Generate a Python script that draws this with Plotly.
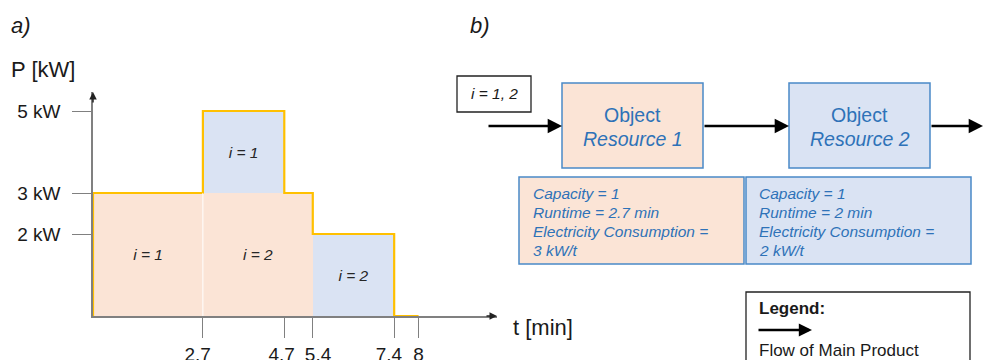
import numpy as np
import plotly.graph_objects as go

# ---------------- data ----------------
# jobs on resource 1 (orange) and resource 2 (blue)
r1_labels = ["i = 1", "i = 2"]
r1_start = [0.0, 2.7]
r1_end = [2.7, 5.4]
r1_power = [3, 3]
r1_base = [0, 0]

r2_labels = ["i = 1", "i = 2"]
r2_start = [2.7, 5.4]
r2_end = [4.7, 7.4]
r2_power = [2, 2]
r2_base = [3, 0]

# total power profile (step)
profile_t = [0, 0, 2.7, 4.7, 5.4, 7.4, 8]
profile_p = [0, 3, 5, 3, 2, 0, 0]

x_ticks = [2.7, 4.7, 5.4, 7.4, 8]
NB = "\u00a0"
x_ticktext = ["2.7" + NB * 2, "4.7" + NB, NB * 2 + "5.4", "7.4" + NB * 2, "8"]
y_ticks = [2, 3, 5]
y_ticktext = ["2 kW", "3 kW", "5 kW"]

W, H = 984, 360
FONT = "Liberation Sans, Arial, sans-serif"
PEACH = "#FBE4D6"
BLUE_FILL = "#DAE3F3"
BORDER = "#4A89C8"
TXT_BLUE = "#2E72B8"
ORANGE = "#FFC000"
GRAY = "#808080"


def px(x):
    return x / W


def py(y):
    return 1 - y / H


fig = go.Figure()

r1s, r1e = np.array(r1_start), np.array(r1_end)
r2s, r2e = np.array(r2_start), np.array(r2_end)

fig.add_trace(go.Bar(
    x=(r1s + r1e) / 2, width=r1e - r1s, y=r1_power, base=r1_base,
    marker=dict(color=PEACH, line=dict(width=0)),
    text=r1_labels, textposition="inside", insidetextanchor="middle", textangle=0,
    textfont=dict(family=FONT, size=15.5, color="#262626", style="italic"),
    showlegend=False, hoverinfo="skip", cliponaxis=False,
))
fig.add_trace(go.Bar(
    x=(r2s + r2e) / 2, width=r2e - r2s, y=r2_power, base=r2_base,
    marker=dict(color=BLUE_FILL, line=dict(width=0)),
    text=r2_labels, textposition="inside", insidetextanchor="middle", textangle=0,
    textfont=dict(family=FONT, size=15.5, color="#262626", style="italic"),
    showlegend=False, hoverinfo="skip", cliponaxis=False,
))
fig.add_trace(go.Scatter(
    x=profile_t, y=profile_p, mode="lines", line=dict(color=ORANGE, width=2.2, shape="hv"),
    showlegend=False, hoverinfo="skip", cliponaxis=False,
))

# white divider between the two resource-1 jobs
fig.add_shape(type="line", xref="x", yref="y", x0=r1_end[0], x1=r1_end[0], y0=0,
              y1=r1_power[0], line=dict(color="white", width=1), layer="above")

# axes geometry: t=0 at x=93px, P=0 at y=316px
xr_max = (497 - 93) / 40.7
yr_max = (316 - 92) / 41.0
fig.update_layout(
    template="none",
    width=W, height=H, margin=dict(l=0, r=0, t=0, b=0, autoexpand=False),
    paper_bgcolor="white", plot_bgcolor="white", barmode="overlay", bargap=0,
    font=dict(family=FONT, color="#1a1a1a"),
    xaxis=dict(domain=[px(93), px(497)], range=[0, xr_max], showgrid=False, zeroline=False,
               automargin=False, tickangle=0,
               showline=True, linecolor=GRAY, linewidth=1.5, layer="below traces",
               ticks="outside", ticklen=20, tickwidth=1.3, tickcolor=GRAY,
               tickvals=x_ticks, ticktext=x_ticktext, ticklabelstandoff=0,
               tickfont=dict(family=FONT, size=19, color="#1a1a1a")),
    yaxis=dict(domain=[py(316), py(92)], range=[0, yr_max], showgrid=False, zeroline=False,
               automargin=False, tickangle=0,
               showline=True, linecolor=GRAY, linewidth=1.5, layer="below traces",
               ticks="outside", ticklen=19, tickwidth=1.3, tickcolor=GRAY,
               tickvals=y_ticks, ticktext=y_ticktext, ticklabelstandoff=8,
               tickfont=dict(family=FONT, size=19, color="#1a1a1a")),
)

ann = []
# axis arrowheads
ann.append(dict(x=xr_max, y=0, xref="x", yref="y", ax=-12, ay=0, axref="pixel", ayref="pixel",
                showarrow=True, arrowhead=2, arrowsize=1, arrowwidth=1.5, arrowcolor="#222",
                text=""))
ann.append(dict(x=0, y=yr_max, xref="x", yref="y", ax=0, ay=12, axref="pixel", ayref="pixel",
                showarrow=True, arrowhead=2, arrowsize=1, arrowwidth=1.5, arrowcolor="#222",
                text=""))


def label(x, y, text, size, color="#1a1a1a", xanchor="left", style="normal", weight="normal"):
    ann.append(dict(x=px(x), y=py(y), xref="paper", yref="paper", text=text, showarrow=False,
                    xanchor=xanchor, yanchor="middle",
                    font=dict(family=FONT, size=size, color=color, style=style, weight=weight)))


label(9, 26, "a)", 22, style="italic")
label(468, 26, "b)", 22, style="italic")
label(9, 69, "P [kW]", 22)
label(511, 327, "t [min]", 22)


def box(x0, y0, x1, y1, fill, line, lw=1.5):
    fig.add_shape(type="rect", xref="paper", yref="paper", x0=px(x0), x1=px(x1),
                  y0=py(y1), y1=py(y0), fillcolor=fill, line=dict(color=line, width=lw),
                  layer="below")


def arrow(x_tail, x_head, y, width=2.6):
    ann.append(dict(x=px(x_head), y=py(y), xref="paper", yref="paper",
                    ax=x_tail - x_head, ay=0, axref="pixel", ayref="pixel",
                    showarrow=True, arrowhead=2, arrowsize=1.1, arrowwidth=width,
                    arrowcolor="#000", text=""))


# panel b
box(457, 76, 531, 112, "white", "#222", 1.3)
label(494, 94, "i = 1, 2", 15.5, xanchor="center", style="italic")

box(562, 83, 703, 168, PEACH, BORDER)
box(789, 83, 930, 168, BLUE_FILL, BORDER)
label(632.5, 115, "Object", 19.5, TXT_BLUE, xanchor="center")
label(632.5, 139, "Resource 1", 19.5, TXT_BLUE, xanchor="center", style="italic")
label(859.5, 115, "Object", 19.5, TXT_BLUE, xanchor="center")
label(859.5, 139, "Resource 2", 19.5, TXT_BLUE, xanchor="center", style="italic")

arrow(487, 562, 126)
arrow(703, 789, 126)
arrow(930, 988, 126)

box(519, 177, 744, 264, PEACH, BORDER)
box(746, 177, 971, 264, BLUE_FILL, BORDER)
info1 = ["Capacity = 1", "Runtime = 2.7 min", "Electricity Consumption =", "3 kW/t"]
info2 = ["Capacity = 1", "Runtime = 2 min", "Electricity Consumption =", "2 kW/t"]
for k, (a, b) in enumerate(zip(info1, info2)):
    yy = 193 + 19 * k
    label(531, yy, a, 15.5, TXT_BLUE, style="italic")
    label(757, yy, b, 15.5, TXT_BLUE, style="italic")

box(746, 292, 970, 372, "white", "#222", 1.3)
label(757, 308, "Legend:", 17, weight="bold")
arrow(757, 812, 330, 2.4)
label(757, 350, "Flow of Main Product", 17)

fig.update_layout(annotations=ann)
fig.write_html("out.html")
